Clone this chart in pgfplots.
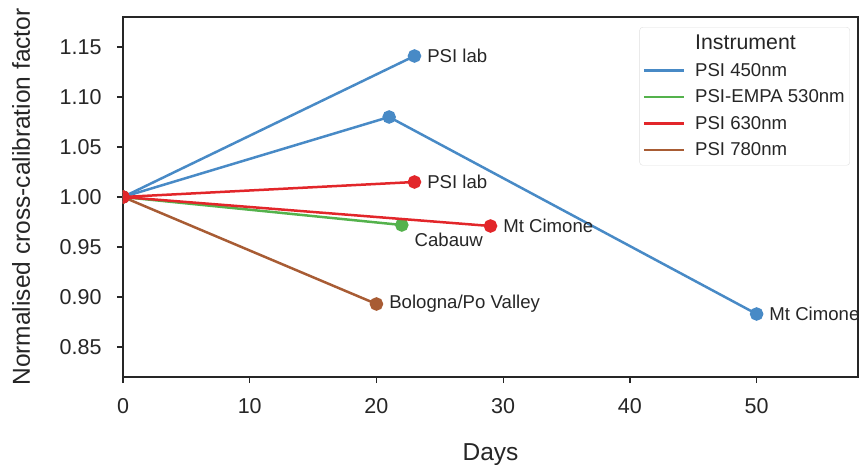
\documentclass[border=0pt]{standalone}
\usepackage{fontspec}
\setmainfont{Liberation Sans}
\usepackage{pgfplots}
\pgfplotsset{compat=1.18}
\definecolor{cblue}{RGB}{72,138,198}
\definecolor{cgreen}{RGB}{84,178,76}
\definecolor{cred}{RGB}{226,38,42}
\definecolor{cbrown}{RGB}{168,92,52}
\definecolor{txt}{RGB}{38,38,38}
\begin{document}
\begin{tikzpicture}
\begin{axis}[
 scale only axis, width=735bp, height=360bp,
 xmin=0, xmax=58, ymin=0.82, ymax=1.18,
 xtick={0,10,20,30,40,50}, ytick={0.85,0.90,0.95,1.00,1.05,1.10,1.15},
 yticklabel style={/pgf/number format/fixed, /pgf/number format/fixed zerofill, /pgf/number format/precision=2},
 /pgf/number format/assume math mode=true,
 tick align=outside, tick pos=left, major tick length=6bp,
 axis line style={txt, line width=1.25bp},
 every tick/.style={txt, line width=1.25bp},
 ticklabel style={font=\fontsize{21.5bp}{25bp}\selectfont, text=txt},
 xticklabel style={yshift=-12bp},
 yticklabel style={xshift=-12bp},
 xlabel={Days}, ylabel={Normalised cross-calibration factor},
 label style={font=\fontsize{24.5bp}{28bp}\selectfont, text=txt, inner sep=0pt},
 xlabel style={at={([yshift=-66bp]axis description cs:0.5,0)}, anchor=north},
 ylabel style={at={([xshift=-111bp]axis description cs:0,0.5)}, anchor=north},
 clip marker paths=true,
 every axis plot/.append style={line width=2.5bp, mark=*, mark size=5.5bp, mark options={solid}},
 legend style={at={(0.989,0.972)}, anchor=north east, draw=black!12, rounded corners=3bp,
   font=\fontsize{18.6bp}{22bp}\selectfont, text=txt, inner xsep=3bp, inner ysep=6bp,
   row sep=8bp, cells={anchor=west}},
 legend image code/.code={\draw[#1, mark=none, line width=2.5bp, sharp corners] (0bp,0bp) -- (40bp,0bp);},
]
\addplot[cblue, forget plot] coordinates {(0,1) (23,1.141)};
\addplot[cblue, forget plot] coordinates {(0,1) (21,1.080) (50,0.883)};
\addplot[cgreen, forget plot] coordinates {(0,1) (22,0.972)};
\addplot[cbrown, forget plot] coordinates {(0,1) (20,0.893)};
\addplot[cred, forget plot] coordinates {(0,1) (29,0.971)};
\addplot[cred, forget plot] coordinates {(0,1) (23,1.015)};
\addlegendimage{empty legend}
\addlegendentry{\hspace{8bp}\fontsize{21.3bp}{25bp}\selectfont Instrument}
\addlegendimage{cblue}
\addlegendentry{\hspace{8bp}PSI 450nm}
\addlegendimage{cgreen}
\addlegendentry{\hspace{8bp}PSI-EMPA 530nm}
\addlegendimage{cred}
\addlegendentry{\hspace{8bp}PSI 630nm}
\addlegendimage{cbrown}
\addlegendentry{\hspace{8bp}PSI 780nm}
\begin{scope}[every node/.style={anchor=west, inner sep=0pt, text=txt, font=\fontsize{18.6bp}{22bp}\selectfont}]
\node at (axis cs:24,1.141) {PSI lab};
\node at (axis cs:24,1.015) {PSI lab};
\node at (axis cs:30,0.971) {Mt Cimone};
\node at (axis cs:23,0.957) {Cabauw};
\node at (axis cs:21,0.893) {Bologna/Po Valley};
\node at (axis cs:51,0.883) {Mt Cimone};
\end{scope}
\end{axis}
\pgfresetboundingbox
\path ([shift={(-123bp,-88bp)}]current axis.south west) rectangle ([shift={(1bp,17bp)}]current axis.north east);
\end{tikzpicture}
\end{document}
